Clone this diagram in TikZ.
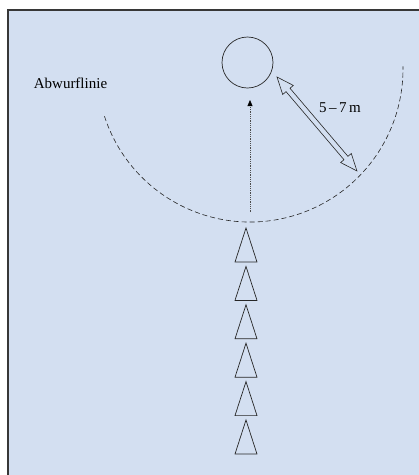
\documentclass[tikz,border=0pt]{standalone}
\usepackage{fontspec}
\setmainfont{Liberation Serif}
\usepackage{tikz}
\usetikzlibrary{positioning,arrows.meta,calc}
\definecolor{fieldblue}{RGB}{211,223,241}
\definecolor{framegray}{RGB}{55,55,55}

\begin{document}
\begin{tikzpicture}[x=1pt,y=-1pt,line width=0.6pt,
  cone/.style={draw=black!85,line width=0.7pt,line join=miter},
  lbl/.style={font=\fontsize{15}{17}\selectfont,inner sep=0pt}]
\useasboundingbox (0,0) rectangle (419,475);
% playing field and frame (top and left edge only)
\fill[fieldblue] (8,10) rectangle (419,475);
\draw[framegray,line width=1.6pt] (419,10) -- (8,10) -- (8,475);
% target ring
\node[circle,draw=black!85,line width=0.7pt,minimum size=51pt,inner sep=0pt] (ring) at (247.5,62.5) {};
% throwing line: dashed arc round the ring
\coordinate (ctr) at (250,69);
\draw[dashed,dash pattern=on 5pt off 3pt,black!85] ($(ctr)+(162:153)$) arc[start angle=162,end angle=-1,radius=153];
\node[lbl] (abwurf) at (70.5,83) {Abwurflinie};
% run-up direction
\coordinate (runS) at (250,212);
\coordinate (runE) at (250,100);
\draw[black!70,line width=0.45pt,dash pattern=on 0.6pt off 1.2pt,-{Triangle[length=6pt,width=5pt,black]}] (runS) -- (runE);
% distance marker ring -- line (hollow double arrow)
\coordinate (distS) at (277,77);
\coordinate (distE) at (357,171);
\begin{scope}[shift={(distS)},rotate=-49.6]
\draw[black!85,line width=0.6pt,line join=miter] (0,0) -- (17,7) -- (17,2.6) -- (106.4,2.6) -- (106.4,7) -- (123.4,0)
  -- (106.4,-7) -- (106.4,-2.6) -- (17,-2.6) -- (17,-7) -- cycle;
\end{scope}
\node[lbl] (dist) at (340,108) {5\,–\,7\,m};
% row of cones
\foreach \i in {0,...,5}{
  \draw[cone] (246,228+38.4*\i) -- (257,262+38.4*\i) -- (235,262+38.4*\i) -- cycle;
}
\end{tikzpicture}
\end{document}
